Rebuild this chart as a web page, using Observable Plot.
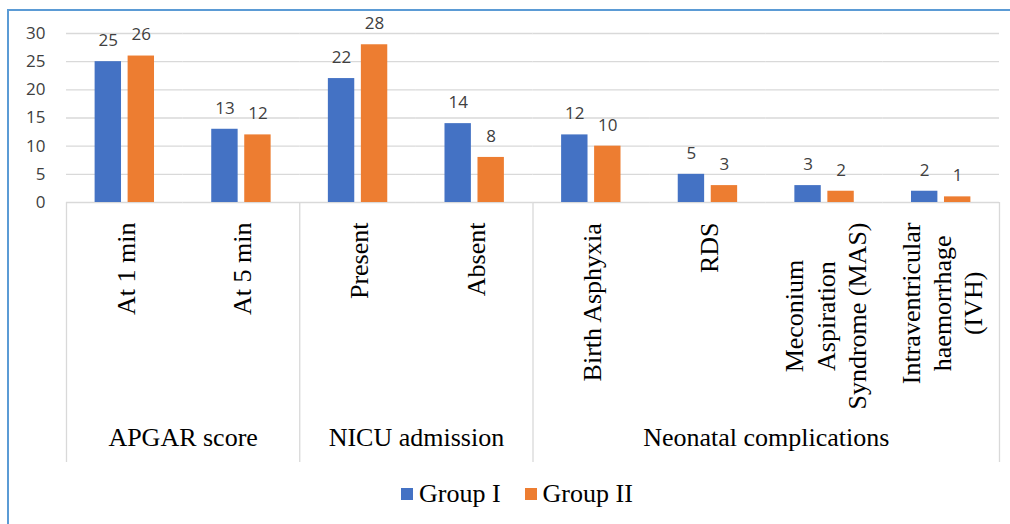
<!DOCTYPE html>
<html><head><meta charset="utf-8">
<script src="https://cdn.jsdelivr.net/npm/d3@7"></script>
<script src="https://cdn.jsdelivr.net/npm/@observablehq/plot@0.6"></script>
<style>
html,body{margin:0;padding:0;background:#fff;}
#wrap{position:relative;width:1010px;height:524px;overflow:hidden;background:#fff;}
#border{position:absolute;left:7px;top:9px;width:1100px;height:600px;border-left:2px solid #5b9bd5;border-top:2px solid #5b9bd5;}
#chart{position:absolute;left:0;top:0;}
#legend{position:absolute;left:401px;top:479px;display:flex;align-items:center;font-family:"Liberation Serif",serif;font-size:26px;line-height:30px;color:#000;}
.sw{width:12px;height:12px;display:inline-block;margin-right:6px;}
.item{display:flex;align-items:center;margin-right:24px;}
</style></head>
<body><div id="wrap"><div id="border"></div><div id="chart"></div><div id="legend"></div></div>
<script>
const categories = ["At 1 min", "At 5 min", "Present", "Absent", "Birth Asphyxia", "RDS",
  "Meconium\nAspiration\nSyndrome (MAS)", "Intraventricular\nhaemorrhage\n(IVH)"];
const categoryGroups = ["APGAR score", "APGAR score", "NICU admission", "NICU admission",
  "Neonatal complications", "Neonatal complications", "Neonatal complications", "Neonatal complications"];
const groupNames = ["APGAR score", "NICU admission", "Neonatal complications"];
const seriesNames = ["Group I", "Group II"];
const groupI = [25, 13, 22, 14, 12, 5, 3, 2];
const groupII = [26, 12, 28, 8, 10, 3, 2, 1];
const yTicks = [0, 5, 10, 15, 20, 25, 30];
const seriesColors = ["#4472c4", "#ed7d31"];

// layout constants
const W = 1010, H = 470, mL = 66, mR = 11, mT = 33, mB = 268;
const fw = (W - mL - mR) / categories.length;
const frameH = H - mT - mB;
const labelTop = 20, dividerLen = 260, groupLabelDy = 243;

const rows = [];
categories.forEach((c, i) => {
  rows.push({cat: c, series: seriesNames[0], value: groupI[i]});
  rows.push({cat: c, series: seriesNames[1], value: groupII[i]});
});

const ctx = document.createElement("canvas").getContext("2d");
ctx.font = "26px 'Liberation Serif'";
const maxLen = (s) => d3.max(s.split("\n"), (l) => ctx.measureText(l).width);

const catLabelMarks = categories.map((c) => Plot.text([c], {
  fx: (d) => d, text: (d) => d, frameAnchor: "bottom", rotate: -90,
  textAnchor: "middle", lineAnchor: "middle", lineHeight: 1.2,
  dy: labelTop + maxLen(c) / 2, fontSize: 26, fontFamily: "Liberation Serif", fill: "#000"
}));

// group spans
const spans = groupNames.map((g) => {
  const idx = categories.map((c, i) => i).filter((i) => categoryGroups[i] === g);
  return {name: g, first: categories[idx[0]], last: categories[idx[idx.length - 1]],
          anchor: categories[idx[0] + idx.length / 2 - 1]};
});

const dividerStyle = {x: null, stroke: "#d9d9d9", strokeWidth: 1.3, insetTop: frameH, insetBottom: -dividerLen};

const plot = Plot.plot({
  width: W, height: H, marginLeft: mL, marginRight: mR, marginTop: mT, marginBottom: mB,
  fx: {domain: categories, padding: 0, axis: null, round: false},
  x: {domain: seriesNames, paddingInner: 0.2, paddingOuter: 0.867, axis: null, round: false},
  y: {domain: [0, 30], axis: null},
  color: {domain: seriesNames, range: seriesColors},
  style: {background: "transparent"},
  marks: [
    Plot.ruleY(yTicks, {stroke: "#d9d9d9", strokeWidth: 1.3}),
    Plot.axisY(yTicks, {label: null, tickSize: 0, tickPadding: 21, fontSize: 17, fontFamily: "Open Sans", fill: "#404040"}),
    Plot.barY(rows, {fx: "cat", x: "series", y: "value", fill: "series"}),
    Plot.text(rows, {fx: "cat", x: "series", y: "value", text: (d) => String(d.value), dy: -21,
      fontSize: 17, fontFamily: "Open Sans", fill: "#404040"}),
    ...catLabelMarks,
    Plot.ruleX(spans, {fx: "first", dx: -fw / 2, ...dividerStyle}),
    Plot.ruleX(spans.slice(-1), {fx: "last", dx: fw / 2, ...dividerStyle}),
    Plot.text(spans, {fx: "anchor", text: "name", dx: fw / 2, frameAnchor: "bottom", dy: groupLabelDy,
      fontSize: 26, fontFamily: "Liberation Serif", fill: "#000"})
  ]
});
document.getElementById("chart").appendChild(plot);

const legend = document.getElementById("legend");
seriesNames.forEach((s, i) => {
  const item = document.createElement("div");
  item.className = "item";
  const sw = document.createElement("span");
  sw.className = "sw";
  sw.style.background = seriesColors[i];
  item.appendChild(sw);
  item.appendChild(document.createTextNode(s));
  legend.appendChild(item);
});
</script>
</body></html>
